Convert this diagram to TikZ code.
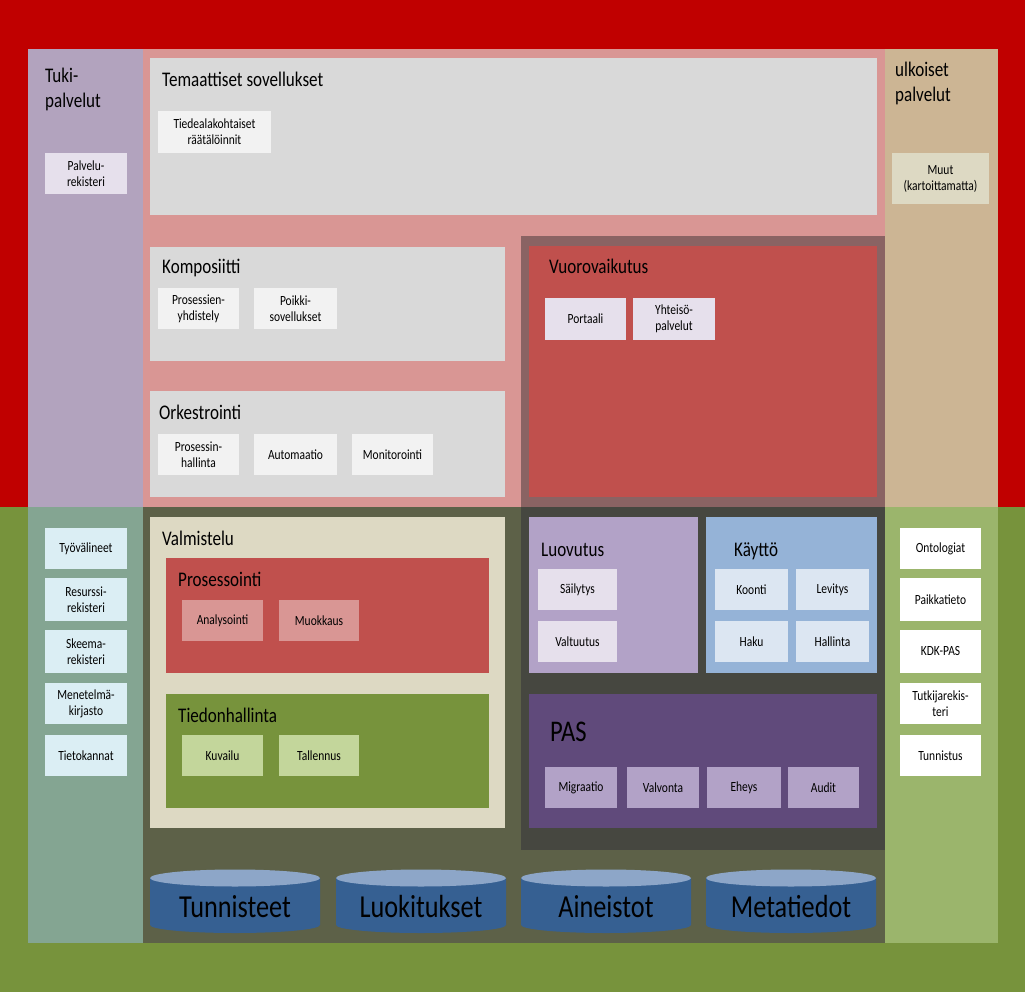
\documentclass[tikz,border=0pt]{standalone}
\usepackage{fontspec}
\setmainfont[FakeStretch=0.82]{Carlito}
\usepackage{xcolor}
\usepackage{tikz}
\usetikzlibrary{positioning}

\definecolor{topred}{HTML}{C00000}
\definecolor{botgreen}{HTML}{77933C}
\definecolor{lilac}{HTML}{B2A3BE}
\definecolor{rosy}{HTML}{D99694}
\definecolor{paleg}{HTML}{D9D9D9}
\definecolor{whiteg}{HTML}{F2F2F2}
\definecolor{tan}{HTML}{CCB594}
\definecolor{cream}{HTML}{DDD9C3}
\definecolor{lavend}{HTML}{E6E0EC}
\definecolor{brownfr}{HTML}{8A6363}
\definecolor{brick}{HTML}{C0504D}
\definecolor{sage}{HTML}{84A592}
\definecolor{olive}{HTML}{5D6148}
\definecolor{darkfr}{HTML}{464740}
\definecolor{iceblue}{HTML}{DBEEF4}
\definecolor{lightolive}{HTML}{9BB56C}
\definecolor{mauve}{HTML}{B2A2C7}
\definecolor{skyb}{HTML}{95B3D7}
\definecolor{paleb}{HTML}{DCE6F2}
\definecolor{grape}{HTML}{604A7B}
\definecolor{leaf}{HTML}{C3D69B}
\definecolor{dbbody}{HTML}{366092}
\definecolor{dbtop}{HTML}{8DA6C8}

\begin{document}
\begin{tikzpicture}[
  x=1pt, y=-1pt,
  panel/.style={rectangle, inner sep=0pt, outer sep=0pt, anchor=north west, draw=none},
  item/.style={panel, minimum width=81pt, minimum height=41pt,
               font=\fontsize{14}{16}\selectfont, align=center},
  ttl/.style={anchor=base west, inner sep=0pt, font=\fontsize{20.8}{25}\selectfont},
  ttl2/.style={anchor=north west, inner sep=0pt, align=left, font=\fontsize{20.8}{25}\selectfont},
  dblabel/.style={anchor=base, inner sep=0pt, font=\fontsize{32}{36}\selectfont},
]
  \useasboundingbox (0,0) rectangle (1025,992);

  % top half
  \node[panel, fill=topred, minimum width=1025pt, minimum height=507pt] (upper) at (0,0) {};
  \node[panel, fill=botgreen, minimum width=1025pt, minimum height=485pt] (lower) at (0,507) {};

  \node[panel, fill=lilac, minimum width=115pt, minimum height=458pt] (tuki) at (28,49) {};
  \node[ttl2] (tukiT) at (45,68) {Tuki-\\palvelut};
  \node[item, fill=lavend, minimum width=82pt] (palvrek) at (45,153) {Palvelu-\\rekisteri};

  \node[panel, fill=rosy, minimum width=742pt, minimum height=458pt] (sovell) at (143,49) {};
  \node[panel, fill=paleg, minimum width=727pt, minimum height=157pt] (temaat) at (150,58) {};
  \node[ttl] (temaatT) at (162,87) {Temaattiset sovellukset};
  \node[item, fill=whiteg, minimum width=113pt, minimum height=42pt] (tiedeala) at (158,111) {Tiedealakohtaiset\\räätälöinnit};

  \node[panel, fill=tan, minimum width=113pt, minimum height=458pt] (ulk) at (885,49) {};
  \node[ttl2] (ulkT) at (895,62) {ulkoiset\\palvelut};
  \node[item, fill=cream, minimum width=97pt, minimum height=51pt] (muut) at (892,153) {Muut\\(kartoittamatta)};

  \node[panel, fill=paleg, minimum width=355pt, minimum height=114pt] (komp) at (150,247) {};
  \node[ttl] (kompT) at (162,274) {Komposiitti};
  \node[item, fill=whiteg] (prosyhd) at (158,288) {Prosessien-\\yhdistely};
  \node[item, fill=whiteg, minimum width=83pt] (poikki) at (254,288) {Poikki-\\sovellukset};

  \node[panel, fill=paleg, minimum width=355pt, minimum height=106pt] (orke) at (150,391) {};
  \node[ttl] (orkeT) at (159,419) {Orkestrointi};
  \node[item, fill=whiteg] (proshall) at (158,434) {Prosessin-\\hallinta};
  \node[item, fill=whiteg, minimum width=83pt] (autom) at (254,434) {Automaatio};
  \node[item, fill=whiteg] (monit) at (352,434) {Monitorointi};

  \node[panel, fill=brownfr, minimum width=364pt, minimum height=271pt] (vuofr) at (521,236) {};
  \node[panel, fill=brick, minimum width=348pt, minimum height=251pt] (vuo) at (529,246) {};
  \node[ttl] (vuoT) at (549,273) {Vuorovaikutus};
  \node[item, fill=lavend, minimum height=42pt] (portaali) at (545,298) {Portaali};
  \node[item, fill=lavend, minimum width=82pt, minimum height=42pt] (yhteiso) at (633,298) {Yhteisö-\\palvelut};

  % bottom half
  \node[panel, fill=sage, minimum width=115pt, minimum height=436pt] (tyok) at (28,507) {};
  \node[item, fill=iceblue, minimum width=82pt] (tyov) at (45,528) {Työvälineet};
  \node[item, fill=iceblue, minimum width=82pt, minimum height=43pt] (resrek) at (45,578) {Resurssi-\\rekisteri};
  \node[item, fill=iceblue, minimum width=82pt, minimum height=43pt] (skeema) at (45,630) {Skeema-\\rekisteri};
  \node[item, fill=iceblue, minimum width=82pt] (menet) at (45,683) {Menetelmä-\\kirjasto};
  \node[item, fill=iceblue, minimum width=82pt] (tietok) at (45,735) {Tietokannat};

  \node[panel, fill=olive, minimum width=742pt, minimum height=436pt] (ydin) at (143,507) {};
  \node[panel, fill=darkfr, minimum width=364pt, minimum height=343pt] (pasfr) at (521,507) {};

  \node[panel, fill=cream, minimum width=355pt, minimum height=311pt] (valm) at (150,517) {};
  \node[ttl] (valmT) at (162,545) {Valmistelu};
  \node[panel, fill=brick, minimum width=323pt, minimum height=115pt] (proso) at (166,558) {};
  \node[ttl] (prosoT) at (178,586) {Prosessointi};
  \node[item, fill=rosy] (analys) at (182,600) {Analysointi};
  \node[item, fill=rosy, minimum width=80pt] (muokk) at (279,600) {Muokkaus};
  \node[panel, fill=botgreen, minimum width=323pt, minimum height=114pt] (tiedh) at (166,694) {};
  \node[ttl] (tiedhT) at (178,722) {Tiedonhallinta};
  \node[item, fill=leaf] (kuvailu) at (182,735) {Kuvailu};
  \node[item, fill=leaf, minimum width=80pt] (tallen) at (279,735) {Tallennus};

  \node[panel, fill=mauve, minimum width=169pt, minimum height=156pt] (luov) at (529,517) {};
  \node[ttl] (luovT) at (541,556) {Luovutus};
  \node[item, fill=lavend, minimum width=79pt] (sailyt) at (538,569) {Säilytys};
  \node[item, fill=lavend, minimum width=79pt] (valtuu) at (538,621) {Valtuutus};

  \node[panel, fill=skyb, minimum width=171pt, minimum height=156pt] (kaytto) at (706,517) {};
  \node[ttl] (kayttoT) at (734,556) {Käyttö};
  \node[item, fill=paleb, minimum width=73pt] (koonti) at (715,569) {Koonti};
  \node[item, fill=paleb, minimum width=73pt] (levitys) at (796,569) {Levitys};
  \node[item, fill=paleb, minimum width=73pt] (haku) at (715,621) {Haku};
  \node[item, fill=paleb, minimum width=73pt] (hallinta) at (796,621) {Hallinta};

  \node[panel, fill=grape, minimum width=348pt, minimum height=134pt] (pas) at (529,694) {};
  \node[ttl, font=\fontsize{30}{34}\selectfont] (pasT) at (550,741) {PAS};
  \node[item, fill=mauve, minimum width=72pt] (migr) at (545,767) {Migraatio};
  \node[item, fill=mauve, minimum width=72pt] (valvo) at (627,767) {Valvonta};
  \node[item, fill=mauve, minimum width=74pt] (eheys) at (707,767) {Eheys};
  \node[item, fill=mauve, minimum width=71pt] (audit) at (788,767) {Audit};

  \node[panel, fill=lightolive, minimum width=113pt, minimum height=436pt] (ulkbot) at (885,507) {};
  \node[item, fill=white] (ontol) at (900,528) {Ontologiat};
  \node[item, fill=white, minimum height=43pt] (paikka) at (900,578) {Paikkatieto};
  \node[item, fill=white, minimum height=43pt] (kdkpas) at (900,630) {KDK-PAS};
  \node[item, fill=white] (tutkija) at (900,683) {Tutkijarekis-\\teri};
  \node[item, fill=white] (tunnistus) at (900,735) {Tunnistus};

  % storage drums
  \foreach \x/\name/\txt in {150/tunn/Tunnisteet, 336/luok/Luokitukset,
                             521/aine/Aineistot, 706/meta/Metatiedot} {
    \fill[dbbody] (\x,878) -- (\x,925)
      arc[start angle=180, end angle=360, x radius=85pt, y radius=8pt]
      -- (\x+170,878) -- cycle;
    \fill[dbtop] (\x+85,878) ellipse[x radius=85pt, y radius=8.5pt];
    \node[dblabel] (\name) at (\x+85,917) {\txt};
  }
\end{tikzpicture}
\end{document}
